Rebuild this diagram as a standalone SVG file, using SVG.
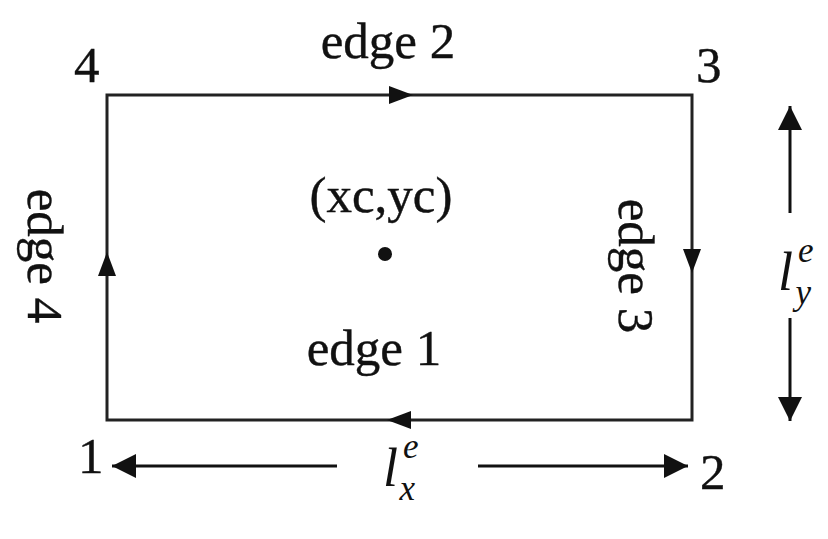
<svg xmlns="http://www.w3.org/2000/svg" width="828" height="539" viewBox="0 0 828 539">
<defs>
<style>
.t{font-family:"Liberation Serif","Times New Roman",serif;font-size:51px;fill:#111;stroke:#111;stroke-width:0.4}
.m{font-family:"Liberation Serif","Times New Roman",serif;font-style:italic;fill:#111;font-size:54px}
.s{font-size:35px}
.ln{stroke:#222;stroke-width:3;fill:none}
.dim{stroke:#111;stroke-width:3;fill:none}
</style>
<marker id="dh" viewBox="0 0 10 10" refX="10" refY="5" markerWidth="8.5" markerHeight="8" orient="auto">
<path d="M0,0 L10,5 L0,10 z" fill="#111"/>
</marker>
</defs>
<rect width="828" height="539" fill="#fff"/>
<g id="connectors">
<rect class="ln" x="107" y="95" width="585" height="325"/>
<path d="M389,86 L413,95 L389,104 z" fill="#111"/>
<path d="M411,411 L387,420 L411,429 z" fill="#111"/>
<path d="M98,276 L107,252 L116,276 z" fill="#111"/>
<path d="M683,249 L692,273 L701,249 z" fill="#111"/>
<line class="dim" x1="337" y1="466" x2="112" y2="466" marker-end="url(#dh)"/>
<line class="dim" x1="478" y1="466" x2="688" y2="466" marker-end="url(#dh)"/>
<line class="dim" x1="790" y1="213" x2="790" y2="106" marker-end="url(#dh)"/>
<line class="dim" x1="790" y1="318" x2="790" y2="421" marker-end="url(#dh)"/>
</g>
<g id="corner1"><text class="t" x="78" y="473">1</text></g>
<g id="corner2"><text class="t" x="700" y="489">2</text></g>
<g id="corner3"><text class="t" x="696" y="82">3</text></g>
<g id="corner4"><text class="t" x="74" y="82">4</text></g>
<g id="edge2"><text class="t" x="388" y="58" text-anchor="middle">edge 2</text></g>
<g id="edge1"><text class="t" x="374" y="365" text-anchor="middle">edge 1</text></g>
<g id="edge4"><text class="t" transform="translate(46,256) rotate(90)" text-anchor="middle" y="18" font-size="56">edge 4</text></g>
<g id="edge3"><text class="t" transform="translate(637,266) rotate(90)" text-anchor="middle" y="18" font-size="54">edge 3</text></g>
<g id="center">
<text class="t" x="381" y="212" text-anchor="middle">(xc,yc)</text>
<circle cx="385" cy="254" r="7" fill="#111"/>
</g>
<g id="lx">
<text class="m" x="383" y="486">l<tspan class="s" dx="5" dy="-28">e</tspan><tspan class="s" dx="-19" dy="42">x</tspan></text>
</g>
<g id="ly">
<text class="m" x="778" y="290">l<tspan class="s" dx="5" dy="-28">e</tspan><tspan class="s" dx="-18" dy="42">y</tspan></text>
</g>
</svg>
